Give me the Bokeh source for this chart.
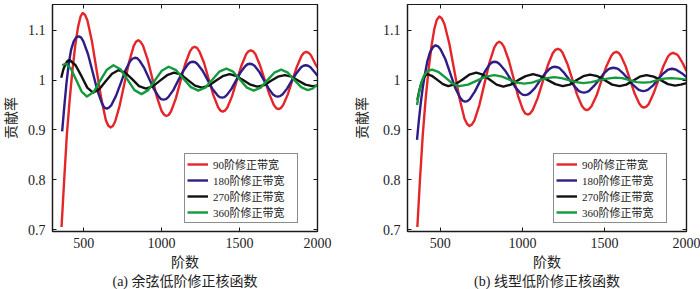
from bokeh.plotting import figure
from bokeh.models import Range1d, LinearAxis, FixedTicker, Title, Legend
from bokeh.layouts import row
from bokeh.embed import file_html
from bokeh.resources import INLINE

# ---------------- data ----------------
series_labels = ["90阶修正带宽", "180阶修正带宽", "270阶修正带宽", "360阶修正带宽"]
series_colors = ["#e4262b", "#2f1d86", "#111111", "#139a3c"]
x_ticks = [500, 1000, 1500, 2000]
y_ticks = [0.7, 0.8, 0.9, 1.0, 1.1]
y_tick_labels = {0.7: "0.7", 0.8: "0.8", 0.9: "0.9", 1.0: "1", 1.1: "1.1"}
captions = ["(a) 余弦低阶修正核函数", "(b) 线型低阶修正核函数"]
x_label = "阶数"
y_label = "贡献率"

# panel (a) cosine kernel
a_red_x = [358, 375, 392, 410, 428, 446, 464, 480, 494, 509, 524, 553, 583, 613, 642, 657, 672, 687, 702, 731,
           761, 791, 820, 835, 850, 865, 880, 910, 940, 970, 1000, 1015, 1030, 1045, 1060, 1091, 1121, 1151,
           1182, 1197, 1212, 1227, 1242, 1272, 1302, 1332, 1362, 1377, 1392, 1407, 1422, 1452, 1482, 1512,
           1542, 1557, 1572, 1587, 1602, 1631, 1661, 1691, 1720, 1735, 1750, 1765, 1780, 1809, 1839, 1869,
           1898, 1913, 1928, 1943, 1958, 1987, 2000]
a_red_y = [0.705, 0.800, 0.890, 0.960, 1.020, 1.070, 1.107, 1.128, 1.135, 1.131, 1.120, 1.078, 1.020, 0.963,
           0.920, 0.909, 0.905, 0.908, 0.917, 0.949, 0.993, 1.036, 1.068, 1.077, 1.080, 1.077, 1.070, 1.042,
           1.004, 0.966, 0.938, 0.931, 0.928, 0.930, 0.937, 0.963, 0.998, 1.032, 1.058, 1.065, 1.067, 1.065,
           1.058, 1.035, 1.002, 0.970, 0.946, 0.939, 0.937, 0.939, 0.945, 0.968, 0.999, 1.029, 1.052, 1.058,
           1.060, 1.058, 1.052, 1.030, 1.001, 0.972, 0.950, 0.944, 0.942, 0.944, 0.950, 0.971, 1.000, 1.028,
           1.049, 1.055, 1.057, 1.055, 1.050, 1.032, 1.025]
a_blue_x = [362, 375, 390, 405, 420, 436, 452, 468, 483, 498, 528, 558, 588, 618, 633, 648, 663, 678, 708, 738,
            768, 798, 813, 828, 844, 859, 889, 920, 951, 981, 996, 1012, 1028, 1043, 1075, 1106, 1137, 1169,
            1184, 1200, 1216, 1231, 1263, 1294, 1325, 1357, 1372, 1388, 1403, 1418, 1447, 1477, 1507, 1536,
            1551, 1566, 1581, 1596, 1626, 1656, 1685, 1715, 1730, 1745, 1760, 1775, 1805, 1835, 1865, 1895,
            1910, 1925, 1940, 1955, 1985, 2000]
a_blue_y = [0.897, 0.945, 0.995, 1.035, 1.062, 1.078, 1.086, 1.088, 1.086, 1.078, 1.052, 1.016, 0.979, 0.953,
            0.945, 0.943, 0.945, 0.950, 0.969, 0.994, 1.020, 1.038, 1.043, 1.045, 1.044, 1.039, 1.024, 1.003,
            0.982, 0.967, 0.962, 0.961, 0.962, 0.966, 0.980, 0.999, 1.018, 1.032, 1.036, 1.037, 1.036, 1.032,
            1.019, 1.001, 0.983, 0.970, 0.966, 0.965, 0.966, 0.970, 0.982, 0.999, 1.016, 1.028, 1.032, 1.033,
            1.032, 1.029, 1.017, 1.000, 0.984, 0.971, 0.968, 0.967, 0.968, 0.971, 0.983, 0.999, 1.014, 1.026,
            1.029, 1.030, 1.029, 1.026, 1.015, 1.009]
a_black_x = [356, 370, 384, 398, 411, 448, 486, 523, 560, 600, 641, 682, 722, 766, 811, 855, 900, 945, 990,
             1035, 1080, 1125, 1169, 1214, 1258, 1303, 1347, 1392, 1436, 1481, 1525, 1570, 1614, 1658, 1702,
             1746, 1790, 1834, 1878, 1922, 1966, 2000]
a_black_y = [1.005, 1.022, 1.033, 1.039, 1.040, 1.030, 1.008, 0.985, 0.975, 0.982, 0.998, 1.013, 1.020, 1.015,
             1.002, 0.988, 0.983, 0.988, 0.999, 1.010, 1.015, 1.011, 1.000, 0.989, 0.985, 0.989, 0.999, 1.008,
             1.012, 1.008, 1.000, 0.991, 0.987, 0.990, 0.999, 1.007, 1.010, 1.007, 0.999, 0.991, 0.988, 0.989]
a_green_x = [362, 384, 418, 453, 487, 521, 564, 606, 649, 691, 736, 781, 826, 871, 914, 958, 1001, 1045, 1093,
             1140, 1188, 1235, 1280, 1325, 1370, 1415, 1459, 1503, 1547, 1591, 1635, 1679, 1723, 1767, 1810,
             1852, 1895, 1937, 1968, 2000]
a_green_y = [1.030, 1.033, 1.023, 1.000, 0.977, 0.967, 0.976, 0.999, 1.021, 1.030, 1.022, 1.001, 0.980, 0.972,
             0.980, 1.000, 1.019, 1.027, 1.020, 1.003, 0.986, 0.979, 0.985, 1.001, 1.017, 1.023, 1.017, 1.001,
             0.985, 0.979, 0.985, 1.000, 1.015, 1.021, 1.015, 1.000, 0.986, 0.980, 0.983, 0.991]

# panel (b) linear kernel
b_red_x = [360, 376, 393, 410, 428, 446, 463, 478, 494, 509, 525, 555, 586, 617, 647, 663, 678, 693, 708, 738,
           769, 799, 829, 844, 859, 874, 888, 917, 946, 974, 1003, 1018, 1032, 1047, 1063, 1093, 1124, 1155,
           1185, 1201, 1216, 1231, 1245, 1275, 1304, 1333, 1363, 1378, 1392, 1407, 1422, 1452, 1482, 1512,
           1542, 1557, 1572, 1586, 1600, 1628, 1656, 1684, 1712, 1726, 1740, 1755, 1770, 1799, 1829, 1859,
           1888, 1903, 1918, 1933, 1948, 1977, 2000]
b_red_y = [0.705, 0.800, 0.890, 0.960, 1.020, 1.068, 1.102, 1.121, 1.128, 1.124, 1.113, 1.073, 1.018, 0.963,
           0.923, 0.912, 0.908, 0.911, 0.919, 0.950, 0.993, 1.035, 1.066, 1.074, 1.077, 1.074, 1.067, 1.040,
           1.004, 0.968, 0.941, 0.933, 0.931, 0.933, 0.940, 0.964, 0.997, 1.030, 1.054, 1.061, 1.063, 1.061,
           1.055, 1.032, 1.002, 0.971, 0.948, 0.942, 0.940, 0.942, 0.948, 0.969, 0.999, 1.028, 1.049, 1.055,
           1.057, 1.055, 1.049, 1.029, 1.001, 0.973, 0.953, 0.947, 0.945, 0.947, 0.952, 0.973, 1.000, 1.028,
           1.048, 1.053, 1.055, 1.053, 1.050, 1.034, 1.018]
b_blue_x = [358, 368, 380, 393, 406, 421, 437, 454, 471, 486, 501, 531, 560, 590, 620, 635, 650, 665, 680, 710,
            741, 771, 801, 816, 831, 846, 862, 893, 924, 954, 985, 1001, 1016, 1031, 1046, 1076, 1107, 1137,
            1167, 1182, 1197, 1212, 1227, 1256, 1286, 1316, 1345, 1360, 1375, 1390, 1405, 1435, 1465, 1495,
            1525, 1540, 1555, 1570, 1585, 1616, 1646, 1676, 1707, 1722, 1737, 1752, 1766, 1795, 1825, 1854,
            1883, 1897, 1912, 1927, 1942, 1971, 2000]
b_blue_y = [0.880, 0.915, 0.952, 0.985, 1.012, 1.038, 1.056, 1.066, 1.070, 1.068, 1.062, 1.042, 1.014, 0.985,
            0.965, 0.959, 0.957, 0.958, 0.962, 0.977, 0.997, 1.017, 1.032, 1.036, 1.037, 1.036, 1.032, 1.020,
            1.004, 0.987, 0.975, 0.971, 0.970, 0.971, 0.974, 0.984, 0.999, 1.013, 1.023, 1.026, 1.027, 1.026,
            1.024, 1.014, 1.001, 0.988, 0.978, 0.976, 0.975, 0.976, 0.978, 0.988, 1.000, 1.013, 1.022, 1.024,
            1.025, 1.024, 1.022, 1.013, 1.002, 0.990, 0.981, 0.979, 0.978, 0.979, 0.981, 0.989, 1.001, 1.012,
            1.020, 1.022, 1.023, 1.022, 1.020, 1.014, 1.006]
b_black_x = [360, 372, 385, 398, 410, 420, 452, 484, 516, 548, 591, 634, 676, 719, 760, 802, 843, 884, 929, 974,
             1020, 1065, 1110, 1155, 1201, 1246, 1288, 1329, 1371, 1412, 1457, 1502, 1547, 1592, 1633, 1674,
             1715, 1756, 1800, 1843, 1887, 1930, 1965, 2000]
b_black_y = [0.960, 0.979, 0.995, 1.005, 1.010, 1.012, 1.008, 1.000, 0.992, 0.988, 0.992, 1.001, 1.011, 1.015,
             1.011, 1.001, 0.991, 0.987, 0.991, 1.000, 1.008, 1.012, 1.008, 1.000, 0.992, 0.988, 0.991, 1.000,
             1.008, 1.011, 1.008, 1.000, 0.991, 0.988, 0.991, 0.999, 1.007, 1.010, 1.007, 1.000, 0.992, 0.989,
             0.991, 0.994]
b_green_x = [358, 370, 383, 398, 415, 432, 450, 491, 532, 574, 615, 669, 723, 776, 830, 876, 921, 967, 1012,
             1058, 1104, 1149, 1195, 1239, 1283, 1328, 1372, 1420, 1469, 1517, 1565, 1608, 1652, 1695, 1738,
             1780, 1822, 1863, 1905, 1950, 2000]
b_green_y = [0.950, 0.974, 0.993, 1.007, 1.016, 1.020, 1.021, 1.016, 1.005, 0.993, 0.988, 0.991, 0.999, 1.007,
             1.010, 1.007, 1.001, 0.995, 0.993, 0.995, 1.000, 1.004, 1.006, 1.004, 1.000, 0.996, 0.994, 0.996,
             1.000, 1.003, 1.005, 1.004, 1.000, 0.996, 0.995, 0.996, 1.000, 1.003, 1.004, 1.003, 1.001]

panel_a = [(a_red_x, a_red_y), (a_blue_x, a_blue_y), (a_black_x, a_black_y), (a_green_x, a_green_y)]
panel_b = [(b_red_x, b_red_y), (b_blue_x, b_blue_y), (b_black_x, b_black_y), (b_green_x, b_green_y)]

FONT = "Liberation Serif, 'Noto Sans CJK SC', serif"
AX = "#1a1a1a"
TXT = "#222222"


def make_panel(series, caption, border_left, border_right, legend_loc, label_shift, cap_shift, ylab_standoff):
    p = figure(width=350, height=289, x_range=Range1d(300, 2000), y_range=Range1d(0.696, 1.152),
               output_backend="svg", toolbar_location=None,
               min_border_left=border_left, min_border_right=border_right,
               min_border_top=4, min_border_bottom=57)
    p.grid.visible = False
    p.outline_line_color = AX
    p.outline_line_width = 1.2
    p.background_fill_color = "white"
    p.border_fill_color = "white"

    renderers = []
    for (xs, ys), col in zip(series, series_colors):
        r = p.line(xs, ys, line_color=col, line_width=2.4, line_join="round")
        renderers.append(r)

    for ax in (p.xaxis[0], p.yaxis[0]):
        ax.axis_line_color = AX
        ax.axis_line_width = 1.3
        ax.major_tick_line_color = AX
        ax.major_tick_in = 4
        ax.major_tick_out = 0
        ax.minor_tick_line_color = None
        ax.major_label_text_font = FONT
        ax.major_label_text_font_size = "14px"
        ax.major_label_text_color = TXT

    p.xaxis[0].ticker = FixedTicker(ticks=x_ticks)
    p.xaxis[0].major_label_standoff = 6
    p.yaxis[0].ticker = FixedTicker(ticks=y_ticks)
    p.yaxis[0].major_label_overrides = y_tick_labels
    p.yaxis[0].major_label_standoff = 7
    p.yaxis[0].axis_label = y_label
    p.yaxis[0].axis_label_text_font = FONT
    p.yaxis[0].axis_label_text_font_size = "14px"
    p.yaxis[0].axis_label_text_font_style = "normal"
    p.yaxis[0].axis_label_text_color = TXT
    p.yaxis[0].axis_label_standoff = ylab_standoff

    # mirrored tick marks on top and right (no labels)
    top = LinearAxis(ticker=FixedTicker(ticks=x_ticks), major_label_text_font_size="1px",
                     major_label_text_color=None,
                     major_label_standoff=0, major_tick_in=4, major_tick_out=0,
                     minor_tick_line_color=None, axis_line_color=AX, axis_line_width=1.2,
                     major_tick_line_color=AX)
    right = LinearAxis(ticker=FixedTicker(ticks=y_ticks), major_label_text_font_size="1px",
                       major_label_text_color=None,
                       major_label_standoff=0, major_tick_in=4, major_tick_out=0,
                       minor_tick_line_color=None, axis_line_color=AX, axis_line_width=1.2,
                       major_tick_line_color=AX)
    p.add_layout(top, "above")
    p.add_layout(right, "right")

    p.add_layout(Title(text=x_label, align="center", offset=label_shift, standoff=4,
                       text_font=FONT, text_font_size="14px", text_font_style="normal",
                       text_color=TXT), "below")
    p.add_layout(Title(text=caption, align="center", offset=cap_shift, standoff=1,
                       text_font=FONT, text_font_size="14px", text_font_style="normal",
                       text_color=TXT), "below")

    legend = Legend(items=[(lab, [r]) for lab, r in zip(series_labels, renderers)],
                    location=legend_loc, label_text_font=FONT, label_text_font_size="11px",
                    label_text_color=TXT,
                    glyph_width=21, glyph_height=14, label_height=14, label_width=82,
                    label_standoff=5, spacing=0, padding=2, margin=0,
                    border_line_color=AX, border_line_width=1.3, background_fill_alpha=1.0)
    p.add_layout(legend, "center")
    return p


pa = make_panel(panel_a, captions[0], 50, 33, (132, 8), 11, 10, 6)
pb = make_panel(panel_b, captions[1], 57, 14, (146, 8), 12, 5, 10)

layout = row(pa, pb)
open("out.html", "w").write(file_html(layout, INLINE))
